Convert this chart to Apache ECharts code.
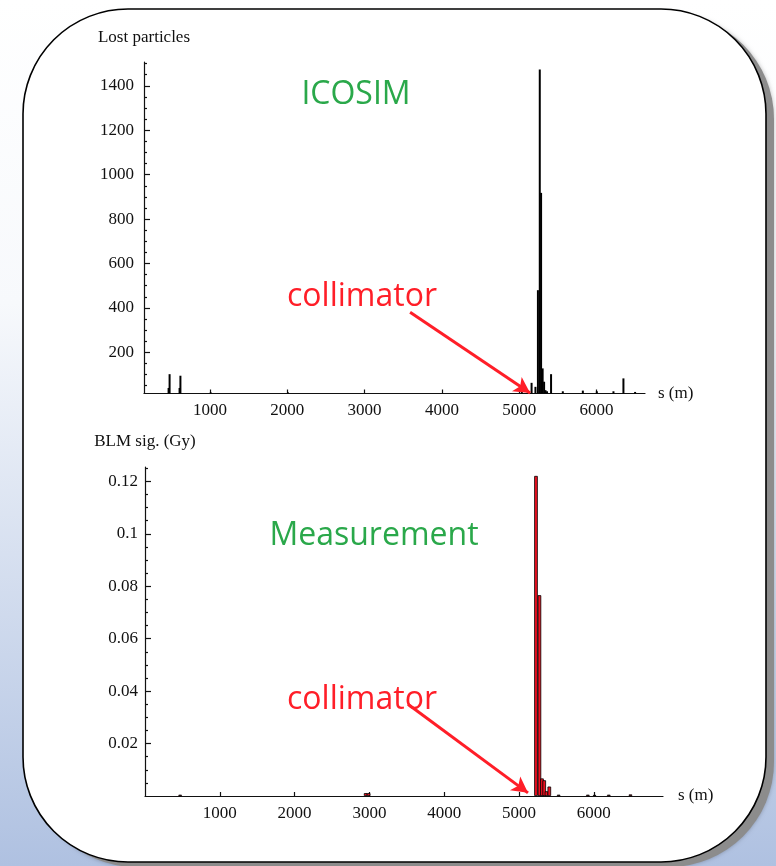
<!DOCTYPE html>
<html>
<head>
<meta charset="utf-8">
<script src="https://cdn.jsdelivr.net/npm/echarts@6/dist/echarts.min.js"></script>
<style>
  html, body { margin: 0; padding: 0; background: #fff; }
  #chart { width: 776px; height: 866px; }
</style>
</head>
<body>
<div id="chart"></div>
<script>
// ICOSIM loss map: position along the ring s (m) and lost particles per bin
const simPositions = [465, 478, 607, 618, 1010, 2010, 5034, 5160, 5210, 5242, 5266, 5283, 5303, 5322, 5340, 5360, 5412, 5564, 5823, 6004, 6219, 6348, 6499];
const simLosses    = [40, 102, 40, 95, 20, 20, 28, 63, 45, 480, 1473, 918, 128, 68, 30, 25, 102, 25, 28, 25, 25, 83, 22];

// Measured BLM signal (Gy) at the monitor positions
const blmPositions = [470, 2950, 2990, 5227, 5273, 5307, 5337, 5367, 5405, 5530, 5920, 6010, 6200, 6490];
const blmSignal    = [0.0005, 0.0011, 0.0011, 0.1221, 0.0766, 0.0067, 0.0060, 0.0018, 0.0036, 0.0005, 0.0005, 0.0004, 0.0005, 0.0006];

// Tick values
const sTicks        = [1000, 2000, 3000, 4000, 5000, 6000];
const simTicks      = [200, 400, 600, 800, 1000, 1200, 1400];
const blmTicks      = [0.02, 0.04, 0.06, 0.08, 0.1, 0.12];

// Minor ticks: four subdivisions between major ticks
function minorBetween(step, upTo) {
  const out = [];
  for (let i = 1; i * step / 4 <= upTo; i++) {
    if (i % 4 !== 0) out.push(+(i * step / 4).toFixed(6));
  }
  return out;
}
const simMinor = minorBetween(200, 1500);
const blmMinor = minorBetween(0.02, 0.125);

const serif = 'Liberation Serif';
const labelStyle = { fontFamily: serif, fontSize: 17, color: '#111' };
const lineStyle = { color: '#111', width: 1.2 };
const plain = v => String(+(+v).toFixed(3));

function pairs(xs, ys) { return xs.map((x, i) => [x, ys[i]]); }

const chart = echarts.init(document.getElementById('chart'), null, { renderer: 'canvas' });

const arrowMark = (from, to) => ({
  silent: true,
  symbol: ['none', 'arrow'],
  symbolSize: [13, 16],
  label: { show: false },
  lineStyle: { color: '#ff1e28', width: 3, type: 'solid' },
  emphasis: { disabled: true },
  data: [[{ coord: from }, { coord: to }]]
});

const option = {
  animation: false,
  backgroundColor: 'transparent',
  graphic: [
    {
      type: 'rect', z: -30, silent: true,
      shape: { x: 0, y: 0, width: 776, height: 866 },
      style: {
        fill: new echarts.graphic.LinearGradient(0, 0, 0, 1, [
          { offset: 0, color: '#ffffff' },
          { offset: 0.35, color: '#f7f9fc' },
          { offset: 1, color: '#afc1e1' }
        ])
      }
    },
    {
      // drop shadow of the panel
      type: 'rect', z: -25, silent: true,
      shape: { x: 31, y: 14, width: 743, height: 853, r: 105 },
      style: { fill: '#8c8c8c', shadowBlur: 4, shadowColor: 'rgba(0,0,0,0.25)' }
    },
    {
      type: 'rect', z: -20, silent: true,
      shape: { x: 23, y: 9, width: 743, height: 853, r: 105 },
      style: { fill: '#ffffff', stroke: '#000', lineWidth: 1.6 }
    },
    {
      type: 'text', z: 100, silent: true,
      style: { text: 'ICOSIM', x: 356, y: 95, fill: '#2aa84a', font: '32px "Open Sans"', textAlign: 'center', textVerticalAlign: 'middle' }
    },
    {
      type: 'text', z: 100, silent: true,
      style: { text: 'Measurement', x: 374, y: 536, fill: '#2aa84a', font: '32px "Open Sans"', textAlign: 'center', textVerticalAlign: 'middle' }
    },
    {
      type: 'text', z: 100, silent: true,
      style: { text: 'collimator', x: 362, y: 297, fill: '#ff1e28', font: '32px "Open Sans"', textAlign: 'center', textVerticalAlign: 'middle' }
    },
    {
      type: 'text', z: 100, silent: true,
      style: { text: 'collimator', x: 362, y: 700, fill: '#ff1e28', font: '32px "Open Sans"', textAlign: 'center', textVerticalAlign: 'middle' }
    }
  ],
  grid: [
    { left: 144, top: 62, right: 131, bottom: 472.5 },
    { left: 145, top: 467, right: 113, bottom: 70 }
  ],
  xAxis: [
    {
      type: 'value', gridIndex: 0, min: 147, max: 6627,
      name: 's (m)', nameLocation: 'end', nameGap: 13,
      nameTextStyle: { fontFamily: serif, fontSize: 17, color: '#111', verticalAlign: 'middle' },
      axisLine: { onZero: false, lineStyle },
      axisTick: { inside: true, length: 4, customValues: sTicks, lineStyle },
      axisLabel: { customValues: sTicks, margin: 9, formatter: plain, ...labelStyle },
      splitLine: { show: false }
    },
    {
      type: 'value', gridIndex: 1, min: 0, max: 6925,
      name: 's (m)', nameLocation: 'end', nameGap: 15,
      nameTextStyle: { fontFamily: serif, fontSize: 17, color: '#111', verticalAlign: 'middle' },
      axisLine: { onZero: false, lineStyle },
      axisTick: { inside: true, length: 4, customValues: sTicks, lineStyle },
      axisLabel: { customValues: sTicks, margin: 9, formatter: plain, ...labelStyle },
      splitLine: { show: false }
    }
  ],
  yAxis: [
    {
      type: 'value', gridIndex: 0, position: 'left', min: 15, max: 1507,
      name: 'Lost particles', nameLocation: 'end', nameGap: 16,
      nameTextStyle: { fontFamily: serif, fontSize: 17, color: '#111', align: 'center' },
      axisLine: { onZero: false, lineStyle },
      axisTick: { inside: true, length: 6, customValues: simTicks, lineStyle },
      axisLabel: { customValues: simTicks, margin: 10, formatter: plain, ...labelStyle },
      splitLine: { show: false }
    },
    {
      type: 'value', gridIndex: 0, position: 'left', offset: 0, min: 15, max: 1507,
      axisLine: { show: false },
      axisTick: { inside: true, length: 3, customValues: simMinor, lineStyle },
      axisLabel: { show: false },
      splitLine: { show: false }
    },
    {
      type: 'value', gridIndex: 1, position: 'left', min: 0, max: 0.1255,
      name: 'BLM sig. (Gy)', nameLocation: 'end', nameGap: 17,
      nameTextStyle: { fontFamily: serif, fontSize: 17, color: '#111', align: 'center' },
      axisLine: { onZero: false, lineStyle },
      axisTick: { inside: true, length: 6, customValues: blmTicks, lineStyle },
      axisLabel: { customValues: blmTicks, margin: 7, formatter: plain, ...labelStyle },
      splitLine: { show: false }
    },
    {
      type: 'value', gridIndex: 1, position: 'left', offset: 0, min: 0, max: 0.1255,
      axisLine: { show: false },
      axisTick: { inside: true, length: 3, customValues: blmMinor, lineStyle },
      axisLabel: { show: false },
      splitLine: { show: false }
    }
  ],
  series: [
    {
      name: 'ICOSIM', type: 'bar', xAxisIndex: 0, yAxisIndex: 0,
      barWidth: 2, barGap: '-100%',
      itemStyle: { color: '#000' },
      data: pairs(simPositions, simLosses),
      markLine: arrowMark([3589, 381], [5141, 17])
    },
    {
      name: 'Measurement', type: 'bar', xAxisIndex: 1, yAxisIndex: 2,
      barWidth: 3.6, barGap: '-100%',
      itemStyle: { color: '#ee1020', borderColor: '#000', borderWidth: 0.8 },
      data: pairs(blmPositions, blmSignal),
      markLine: arrowMark([3516, 0.035], [5120, 0.0012])
    }
  ]
};

chart.setOption(option);
</script>
</body>
</html>
